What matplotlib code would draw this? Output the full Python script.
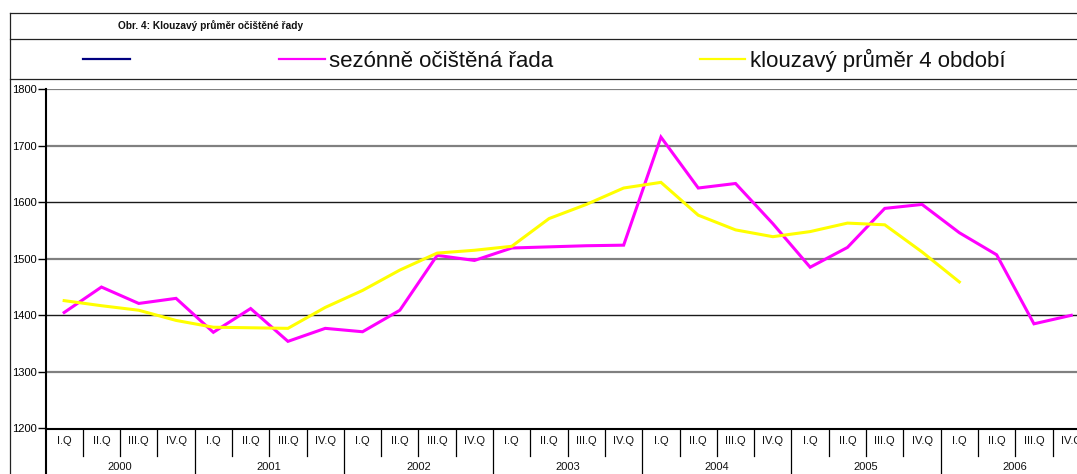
import numpy as np
import matplotlib
matplotlib.use("Agg")
import matplotlib.pyplot as plt
from matplotlib.lines import Line2D
from matplotlib.transforms import blended_transform_factory

plt.rcParams['font.family'] = ['Liberation Sans', 'DejaVu Sans']

# ---------------- data ----------------
years = ["2000", "2001", "2002", "2003", "2004", "2005", "2006"]
quarters = ["I.Q", "II.Q", "III.Q", "IV.Q"]
seasonally_adjusted = [1405, 1450, 1421, 1430, 1370, 1412, 1354, 1377,
                       1371, 1409, 1506, 1497, 1519, 1521, 1523, 1524,
                       1715, 1625, 1633, 1562, 1485, 1520, 1589, 1596,
                       1546, 1507, 1385, 1400]
moving_avg4 = [1426, 1417, 1409, 1391, 1379, 1378, 1377, 1414,
               1444, 1480, 1510, 1515, 1522, 1571, 1596, 1625,
               1635, 1577, 1551, 1539, 1548, 1563, 1560, 1512,
               1459]
yticks = [1200, 1300, 1400, 1500, 1600, 1700, 1800]
title = "Obr. 4: Klouzavý průměr očištěné řady"
label_sa = "sezónně očištěná řada"
label_ma = "klouzavý průměr 4 období"

# ---------------- figure ----------------
W, H = 1077, 474
fig = plt.figure(figsize=(W / 100, H / 100), dpi=100)

def fx(px):
    return px / W

def fy(py):
    return (H - py) / H

ax_left, ax_right = 45.5, 45.5 + 28 * 37.3
ax_top, ax_bot = 89.0, 428.5
ax = fig.add_axes([fx(ax_left), fy(ax_bot), fx(ax_right - ax_left), (ax_bot - ax_top) / H])

n = len(seasonally_adjusted)
x_sa = np.arange(n)
x_ma = np.arange(len(moving_avg4))

# gridlines (mimic reference: some grey thick, some black thin)
grey_lines = [1800, 1700, 1500, 1300]
for v in yticks[1:]:
    if v in grey_lines:
        ax.axhline(v, color="#808080", lw=1.6, zorder=1)
    else:
        ax.axhline(v, color="#1a1a1a", lw=1.0, zorder=1)

ax.plot(x_sa, seasonally_adjusted, color="#FF00FF", lw=2.2, zorder=3,
        solid_joinstyle="miter")
ax.plot(x_ma, moving_avg4, color="#FFFF00", lw=2.2, zorder=3,
        solid_joinstyle="miter")

ax.set_xlim(-0.5, n - 0.5)
ax.set_ylim(1200, 1800)
ax.set_yticks(yticks)
ax.set_yticklabels([str(v) for v in yticks], fontsize=8)
ax.tick_params(axis="y", direction="out", length=5.5, width=1.0, pad=1)
ax.set_xticks([])
for s in ["top", "right"]:
    ax.spines[s].set_visible(False)
ax.spines["left"].set_linewidth(1.5)
ax.spines["bottom"].set_linewidth(1.5)
ax.spines["left"].set_zorder(4)
ax.spines["bottom"].set_zorder(4)

# category axis (quarters and years)
tr = blended_transform_factory(ax.transData, fig.transFigure)
for i in range(n):
    ax.text(i, fy(441.5), quarters[i % 4], transform=tr, ha="center", va="center",
            fontsize=8, color="#111111")
for k in range(1, n):
    if k % 4 == 0:
        y0 = fy(474)
    else:
        y0 = fy(456)
    ax.add_line(Line2D([k - 0.5, k - 0.5], [fy(ax_bot), y0], transform=tr,
                       color="black", lw=0.9, clip_on=False))
ax.add_line(Line2D([-0.5, -0.5], [fy(ax_bot), fy(474)], transform=tr,
                   color="black", lw=1.5, clip_on=False))
for j, yr in enumerate(years):
    ax.text(j * 4 + 1.5, fy(467.5), yr, transform=tr, ha="center", va="center",
            fontsize=8, color="#111111")

# ---------------- frame, title, legend ----------------
fl = dict(transform=fig.transFigure, color="#222222", lw=0.9)
fig.add_artist(Line2D([fx(9.5), 1.0], [fy(12.7), fy(12.7)], **fl))
fig.add_artist(Line2D([fx(9.5), 1.0], [fy(39.3), fy(39.3)], **fl))
fig.add_artist(Line2D([fx(9.5), 1.0], [fy(79.0), fy(79.0)], **fl))
fig.add_artist(Line2D([fx(9.5), fx(9.5)], [fy(12.7), 0.0], **fl))

fig.text(fx(211), fy(26), title, ha="center", va="center", fontsize=7.3,
         fontweight="bold", color="#111111")

ly = fy(58.5)
fig.add_artist(Line2D([fx(83), fx(130)], [ly, ly], transform=fig.transFigure,
                      color="#000080", lw=1.6))
fig.add_artist(Line2D([fx(279), fx(325)], [ly, ly], transform=fig.transFigure,
                      color="#FF00FF", lw=1.6))
fig.text(fx(329), fy(66.7), label_sa, ha="left", va="baseline", fontsize=16,
         color="#111111")
fig.add_artist(Line2D([fx(700), fx(745)], [ly, ly], transform=fig.transFigure,
                      color="#FFFF00", lw=1.6))
fig.text(fx(750), fy(66.7), label_ma, ha="left", va="baseline", fontsize=16,
         color="#111111")

fig.savefig("out.png", dpi=100)
